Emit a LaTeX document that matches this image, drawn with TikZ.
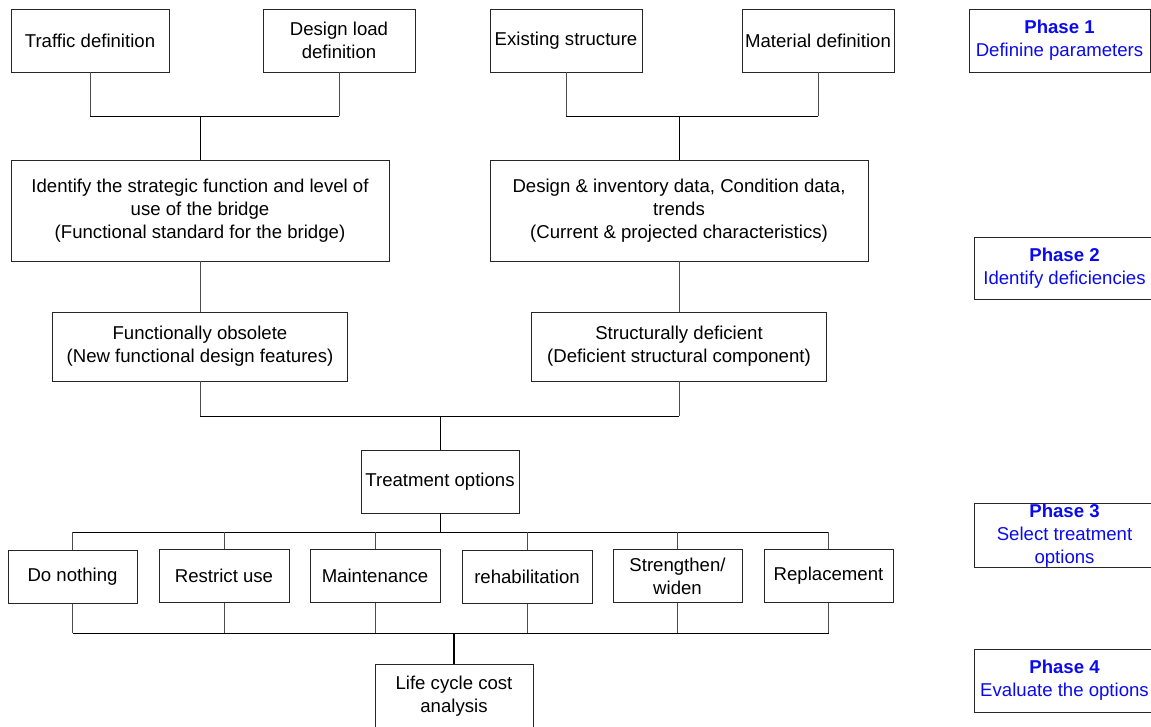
\documentclass[tikz,border=0pt]{standalone}
\usepackage{fontspec}
\setmainfont{Liberation Sans}
\definecolor{phaseblue}{RGB}{10,10,240}
\begin{document}
\begin{tikzpicture}[x=1pt,y=-1pt,
  box/.style={draw=black!85,line width=0.8pt,inner sep=0pt,align=center,
    font=\fontsize{18.6}{23}\selectfont},
  phase/.style={box,text=phaseblue},
  conn/.style={draw=black!70,line width=0.8pt},
  bus/.style={draw=black,line width=0.9pt},
  thick conn/.style={draw=black,line width=1.6pt}]
\useasboundingbox (0,0) rectangle (1151,726);
% Phase 1 nodes
\node[box,minimum width=158pt,minimum height=63pt] (trf) at (90,40.5) {Traffic definition};
\node[box,minimum width=152pt,minimum height=63pt] (dld) at (339,40.5) {Design load\\definition};
\node[box,minimum width=152pt,minimum height=63pt] (exs) at (566,40.5) {Existing structure};
\node[box,minimum width=152pt,minimum height=63pt] (mat) at (818,40.5) {Material definition};
% Phase 2 nodes
\node[box,minimum width=378pt,minimum height=101pt] (idf) at (200,210.5) {Identify the strategic function and level of\\use of the bridge\\(Functional standard for the bridge)};
\node[box,minimum width=378pt,minimum height=101pt] (dsg) at (679,210.5) {Design \& inventory data, Condition data,\\trends\\(Current \& projected characteristics)};
\node[box,minimum width=295pt,minimum height=69pt] (fob) at (200,346.5) {Functionally obsolete\\(New functional design features)};
\node[box,minimum width=295pt,minimum height=69pt] (sdf) at (679,346.5) {Structurally deficient\\(Deficient structural component)};
% Phase 3 nodes
\node[box,minimum width=158pt,minimum height=63pt] (trt) at (440,481.5) {Treatment options};
\node[box,minimum width=129pt,minimum height=53pt] (o1) at (72.5,577) {Do nothing};
\node[box,minimum width=130pt,minimum height=53pt] (o2) at (224,576) {Restrict use};
\node[box,minimum width=130pt,minimum height=53pt] (o3) at (375,576) {Maintenance};
\node[box,minimum width=130pt,minimum height=53pt] (o4) at (527,577) {rehabilitation};
\node[box,minimum width=129pt,minimum height=53pt] (o5) at (677.5,576) {Strengthen/\\widen};
\node[box,minimum width=129pt,minimum height=53pt] (o6) at (828.5,576) {Replacement};
% Phase 4 node
\node[box,minimum width=158pt,minimum height=65pt] (lcc) at (454,696.5) {Life cycle cost\\analysis};
% Phase labels
\node[phase,minimum width=181pt,minimum height=63pt] (p1) at (1059.5,40.5) {\textbf{Phase 1}\\Definine parameters};
\node[phase,minimum width=181pt,minimum height=62pt] (p2) at (1064.5,268) {\textbf{Phase 2}\\Identify deficiencies};
\node[phase,minimum width=181pt,minimum height=63pt] (p3) at (1064.5,535.5) {\textbf{Phase 3}\\Select treatment\\options};
\node[phase,minimum width=181pt,minimum height=63pt] (p4) at (1064.5,680.5) {\textbf{Phase 4}\\Evaluate the options};
% junction coordinates
\coordinate (j1) at (200,116);
\coordinate (j2) at (679,116);
\coordinate (j3) at (440,416);
\coordinate (j4) at (440,532);
\coordinate (j5) at (454,633);
% connectors top
\draw[conn] (trf.south) -- (trf.south |- j1);
\draw[conn] (dld.south) -- (dld.south |- j1);
\draw[bus] (trf.south |- j1) -- (dld.south |- j1);
\draw[bus] (j1) -- (idf.north);
\draw[conn] (exs.south) -- (exs.south |- j2);
\draw[conn] (mat.south) -- (mat.south |- j2);
\draw[bus] (exs.south |- j2) -- (mat.south |- j2);
\draw[bus] (j2) -- (dsg.north);
\draw[conn] (idf.south) -- (fob.north);
\draw[conn] (dsg.south) -- (sdf.north);
% merge to treatment
\draw[conn] (fob.south) -- (fob.south |- j3);
\draw[conn] (sdf.south) -- (sdf.south |- j3);
\draw[bus] (fob.south |- j3) -- (sdf.south |- j3);
\draw[bus] (j3) -- (trt.north);
% treatment to options
\draw[bus] (trt.south) -- (j4);
\draw[bus] (o1.north |- j4) -- (o6.north |- j4);
\foreach \o in {o1,o2,o3,o4,o5,o6}{
  \draw[conn] (\o.north |- j4) -- (\o.north);
  \draw[conn] (\o.south) -- (\o.south |- j5);
}
\draw[bus] (o1.south |- j5) -- (o6.south |- j5);
\draw[thick conn] (j5) -- (lcc.north);
\end{tikzpicture}
\end{document}
